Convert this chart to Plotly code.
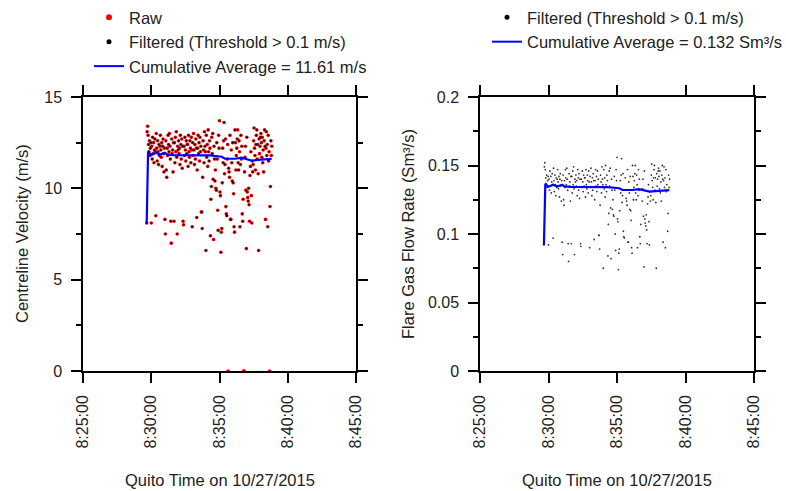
import plotly.graph_objects as go
from datetime import datetime, timedelta

# ---------------- data ----------------
T0 = datetime(2015, 10, 27, 8, 25, 0)          # axis origin
FIRST_SAMPLE_S = 280                           # first sample, seconds after 8:25:00
SAMPLE_PERIOD_S = 2
THRESHOLD = 0.1

VELOCITY_RAW = [
    8.1, 13.1, 13.4, 12.9, 12.4, 12.0, 12.6, 11.8, 12.2, 12.5,
    8.1, 12.3, 11.6, 12.8, 11.9, 12.5, 11.4, 12.1, 12.7, 12.0,
    8.5, 13.0, 12.2, 11.5, 12.6, 12.0, 11.3, 12.4, 11.8, 12.3,
    12.9, 12.1, 11.7, 12.5, 11.2, 12.3, 12.7, 11.9, 10.9, 12.2,
    8.3, 7.5, 12.6, 11.0, 10.6, 12.2, 11.8, 12.9, 12.4, 12.0,
    13.0, 12.3, 11.6, 8.2, 7.0, 12.7, 11.9, 12.1, 10.9, 12.5,
    8.2, 12.5, 11.4, 12.8, 12.0, 13.1, 11.7, 7.5, 12.3, 12.1,
    12.6, 11.9, 12.2, 11.3, 12.9, 12.4, 11.6, 12.7, 11.1, 12.3,
    8.2, 8.0, 12.3, 11.8, 12.8, 12.1, 11.5, 12.6, 11.9, 12.4,
    12.4, 11.2, 12.9, 12.0, 11.7, 12.6, 12.2, 11.4, 12.8, 12.1,
    7.9, 12.5, 11.8, 13.0, 12.1, 11.3, 12.4, 11.6, 12.7, 12.2,
    8.4, 11.0, 12.2, 12.9, 11.9, 12.5, 11.5, 12.8, 12.0, 12.3,
    8.7, 8.7, 7.8, 10.6, 12.6, 12.1, 11.4, 13.1, 12.3, 12.0,
    6.6, 12.9, 11.7, 12.4, 11.2, 13.2, 12.0, 11.5, 12.6, 12.2,
    7.4, 9.4, 10.1, 12.8, 11.9, 13.0, 10.5, 7.2, 12.3, 11.6,
    10.4, 11.0, 10.0, 9.9, 12.5, 11.6, 8.8, 7.7, 12.9, 12.2,
    13.7, 9.8, 9.6, 6.5, 7.6, 7.8, 10.3, 12.2, 11.4, 12.6,
    13.6, 10.8, 11.3, 12.7, 9.0, 8.6, 8.5, 11.6, 12.4, 0.0,
    11.1, 10.9, 10.6, 12.9, 8.3, 8.3, 12.1, 11.4, 10.4, 12.5,
    10.3, 9.7, 7.9, 7.6, 13.2, 12.5, 11.0, 11.8, 12.2, 12.7,
    13.2, 11.4, 11.0, 12.6, 12.0, 7.9, 11.3, 12.9, 11.6, 12.3,
    8.6, 8.2, 9.4, 0.0, 0.0, 10.9, 11.7, 12.3, 9.9, 6.7, 12.8,
    9.8, 9.5, 9.3, 10.0, 9.1, 8.2, 10.7, 11.2, 12.0, 9.6,
    8.1, 11.5, 10.9, 11.3, 12.6, 13.3, 12.2, 11.8, 11.0, 12.4,
    12.9, 13.2, 11.6, 12.4, 10.8, 6.6, 12.7, 11.9, 12.3, 12.8,
    13.0, 12.5, 11.7, 12.8, 11.4, 12.1, 10.9, 12.6, 13.2, 12.3,
    8.3, 12.2, 13.1, 11.8, 12.4, 7.9, 12.9, 11.5, 12.0, 0.0,
    9.0, 10.1, 12.6, 11.8, 12.3,
]

FLOW_RATE = [
    .092, .149, .152, .147, .141, .136, .143, .134, .139, .142,
    .092, .140, .132, .146, .135, .142, .130, .138, .144, .136,
    .097, .148, .139, .131, .143, .136, .128, .141, .134, .140,
    .147, .138, .133, .142, .127, .140, .144, .135, .124, .139,
    .094, .085, .143, .125, .121, .139, .134, .147, .141, .136,
    .148, .140, .132, .093, .080, .144, .135, .138, .124, .142,
    .093, .142, .130, .146, .136, .149, .133, .085, .140, .138,
    .143, .135, .139, .128, .147, .141, .132, .144, .126, .140,
    .093, .091, .140, .134, .146, .138, .131, .143, .135, .141,
    .141, .127, .147, .136, .133, .143, .139, .130, .146, .138,
    .090, .142, .134, .148, .138, .128, .141, .132, .144, .139,
    .096, .125, .139, .147, .135, .142, .131, .146, .136, .140,
    .099, .099, .089, .121, .143, .138, .130, .149, .140, .136,
    .075, .147, .133, .141, .127, .150, .136, .131, .143, .139,
    .084, .107, .115, .146, .135, .148, .119, .082, .140, .132,
    .118, .125, .114, .113, .142, .132, .100, .088, .147, .139,
    .156, .111, .109, .074, .086, .089, .117, .139, .130, .143,
    .155, .123, .128, .144, .102, .098, .097, .132, .141, 0.0,
    .126, .124, .121, .147, .094, .094, .138, .130, .118, .142,
    .117, .110, .090, .086, .150, .142, .125, .134, .139, .144,
    .150, .130, .125, .143, .136, .090, .128, .147, .132, .140,
    .098, .093, .107, 0.0, 0.0, .124, .133, .140, .113, .076, .146,
    .111, .108, .106, .114, .103, .093, .122, .127, .136, .109,
    .092, .131, .124, .128, .143, .151, .139, .134, .125, .141,
    .147, .150, .132, .141, .123, .075, .144, .135, .140, .146,
    .148, .142, .133, .146, .130, .138, .124, .143, .150, .140,
    .094, .139, .149, .134, .141, .090, .147, .131, .136, 0.0,
    .102, .115, .143, .134, .140,
]

# cumulative average curves (seconds after 8:25:00)
AVG_T_S = [280, 282, 284, 286, 288, 299, 321, 338, 360, 369, 396, 470,
           558, 610, 624, 668, 697, 742, 769, 829]
VEL_AVG = [8.1, 10.5, 11.6, 11.95, 12.0, 11.82, 11.95, 11.85, 11.95, 11.86,
           11.82, 11.8, 11.8, 11.73, 11.62, 11.62, 11.68, 11.51, 11.56, 11.61]
FLOW_AVG = [0.092, 0.119, 0.131, 0.136, 0.1365, 0.1345, 0.136, 0.1347, 0.136,
            0.1348, 0.1344, 0.1342, 0.1342, 0.1334, 0.1321, 0.1321, 0.1328,
            0.1309, 0.1314, 0.132]

VEL_MEAN_LABEL = "11.61"
FLOW_MEAN_LABEL = "0.132"
X_TITLE = "Quito Time on 10/27/2015"
Y_TITLES = ["Centreline Velocity (m/s)", "Flare Gas Flow Rate (Sm³/s)"]

# ---------------- derived ----------------
times = [T0 + timedelta(seconds=FIRST_SAMPLE_S + SAMPLE_PERIOD_S * i)
         for i in range(len(VELOCITY_RAW))]
keep = [v > THRESHOLD for v in VELOCITY_RAW]
t_f = [t for t, k in zip(times, keep) if k]
v_f = [v for v, k in zip(VELOCITY_RAW, keep) if k]
q_f = [q for q, k in zip(FLOW_RATE, keep) if k]
avg_times = [T0 + timedelta(seconds=s) for s in AVG_T_S]

FONT = "Liberation Sans, Arial, sans-serif"
TXT = "#222222"
TICK_SIZE = 16
TITLE_SIZE = 16.5

fig = go.Figure()

# left panel
fig.add_trace(go.Scatter(x=times, y=VELOCITY_RAW, mode="markers",
                         marker=dict(color="#ff0000", size=3.6), showlegend=False,
                         xaxis="x", yaxis="y"))
fig.add_trace(go.Scatter(x=t_f, y=v_f, mode="markers",
                         marker=dict(color="#200000", size=2.0), showlegend=False,
                         xaxis="x", yaxis="y"))
fig.add_trace(go.Scatter(x=avg_times, y=VEL_AVG, mode="lines",
                         line=dict(color="#0000ff", width=2.2), showlegend=False,
                         xaxis="x", yaxis="y"))
# right panel
fig.add_trace(go.Scatter(x=t_f, y=q_f, mode="markers",
                         marker=dict(color="#333333", size=1.8), showlegend=False,
                         xaxis="x2", yaxis="y2"))
fig.add_trace(go.Scatter(x=avg_times, y=FLOW_AVG, mode="lines",
                         line=dict(color="#0000ff", width=2.2), showlegend=False,
                         xaxis="x2", yaxis="y2"))

# legend entries
fig.add_trace(go.Scatter(x=[None], y=[None], mode="markers", name="Raw",
                         marker=dict(color="#ff0000", size=6), legend="legend"))
fig.add_trace(go.Scatter(x=[None], y=[None], mode="markers",
                         name="Filtered (Threshold > 0.1 m/s)",
                         marker=dict(color="#000000", size=5), legend="legend"))
fig.add_trace(go.Scatter(x=[None], y=[None], mode="lines",
                         name=f"Cumulative Average = {VEL_MEAN_LABEL} m/s",
                         line=dict(color="#0000ff", width=2), legend="legend"))
fig.add_trace(go.Scatter(x=[None], y=[None], mode="markers",
                         name="Filtered (Threshold > 0.1 m/s)",
                         marker=dict(color="#000000", size=5), legend="legend2",
                         xaxis="x2", yaxis="y2"))
fig.add_trace(go.Scatter(x=[None], y=[None], mode="lines",
                         name=f"Cumulative Average = {FLOW_MEAN_LABEL} Sm³/s",
                         line=dict(color="#0000ff", width=2), legend="legend2",
                         xaxis="x2", yaxis="y2"))

W, H = 786, 491
xrange_ = [T0, T0 + timedelta(minutes=20)]

def xaxis(domain, anchor):
    return dict(domain=domain, anchor=anchor, type="date", range=xrange_,
                tick0=T0, dtick=300000, tickformat="%-H:%M:%S", tickangle=-90,
                showline=True, linecolor="black", linewidth=1.5, mirror="ticks",
                ticks="outside", ticklen=10, tickwidth=1.5, tickcolor="black",
                ticklabelstandoff=6,
                showgrid=False, zeroline=False, automargin=False,
                tickfont=dict(family=FONT, size=TICK_SIZE, color=TXT))

def yaxis(domain, anchor, rng, dt):
    return dict(domain=domain, anchor=anchor, range=rng, dtick=dt, tick0=0,
                showline=True, linecolor="black", linewidth=1.5, mirror="ticks",
                ticks="outside", ticklen=10, tickwidth=1.5, tickcolor="black",
                ticklabelstandoff=6,
                minor=dict(dtick=dt / 2, ticks="outside", ticklen=5,
                           tickwidth=1.5, tickcolor="black", showgrid=False),
                showgrid=False, zeroline=False, automargin=False,
                tickfont=dict(family=FONT, size=TICK_SIZE, color=TXT))

def px_x(p):
    return p / W

def px_y(p):
    return 1 - p / H

title_font = dict(family=FONT, size=TITLE_SIZE, color=TXT)
annotations = [
    dict(text=X_TITLE, x=px_x(219.5), y=px_y(480), xref="paper", yref="paper",
         showarrow=False, font=title_font, xanchor="center", yanchor="middle"),
    dict(text=X_TITLE, x=px_x(617), y=px_y(480), xref="paper", yref="paper",
         showarrow=False, font=title_font, xanchor="center", yanchor="middle"),
    dict(text=Y_TITLES[0], x=px_x(22), y=px_y(234), xref="paper", yref="paper",
         showarrow=False, font=title_font, textangle=-90,
         xanchor="center", yanchor="middle"),
    dict(text=Y_TITLES[1], x=px_x(408), y=px_y(234), xref="paper", yref="paper",
         showarrow=False, font=title_font, textangle=-90,
         xanchor="center", yanchor="middle"),
]

ydom = [(H - 371) / H, (H - 97) / H]
fig.update_layout(
    width=W, height=H, margin=dict(l=0, r=0, t=0, b=0, autoexpand=False),
    paper_bgcolor="white", plot_bgcolor="white",
    font=dict(family=FONT, size=TITLE_SIZE, color=TXT),
    xaxis=xaxis([83 / W, 356 / W], "y"),
    yaxis=yaxis(ydom, "x", [0, 15], 5),
    xaxis2=xaxis([480 / W, 754 / W], "y2"),
    yaxis2=yaxis(ydom, "x2", [0, 0.2], 0.05),
    annotations=annotations,
    legend=dict(x=89 / W, y=1.0, xref="container", yref="container",
                xanchor="left", yanchor="top",
                bgcolor="rgba(0,0,0,0)", borderwidth=0,
                font=dict(family=FONT, size=TITLE_SIZE, color=TXT)),
    legend2=dict(x=487 / W, y=1.0, xref="container", yref="container",
                 xanchor="left", yanchor="top",
                 bgcolor="rgba(0,0,0,0)", borderwidth=0,
                 font=dict(family=FONT, size=TITLE_SIZE, color=TXT)),
)

fig.write_html("out.html",
               config={"displayModeBar": False},
               post_script="document.body.style.margin='0';"
                           "document.body.style.overflow='hidden';")
